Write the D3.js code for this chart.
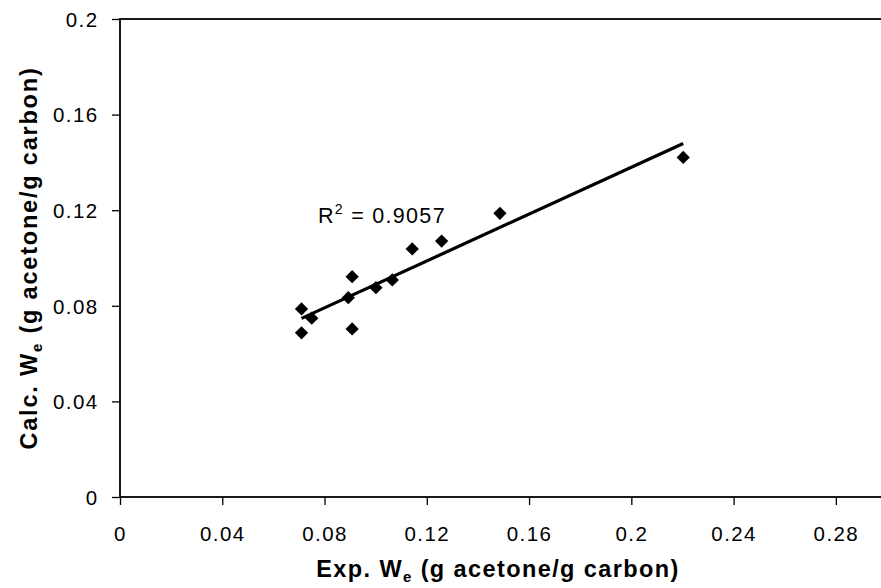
<!DOCTYPE html>
<html>
<head>
<meta charset="utf-8">
<script src="https://cdn.jsdelivr.net/npm/d3@7"></script>
<style>
  body { margin: 0; background: #fff; }
  svg { display: block; font-family: "Liberation Sans", Arial, sans-serif; }
</style>
</head>
<body>
<svg id="chart" width="881" height="588"></svg>
<script>
// experimental vs calculated equilibrium adsorption (g acetone / g carbon)
const expWe  = [0.0710, 0.0750, 0.0710, 0.0908, 0.0893, 0.0908, 0.1001, 0.1065, 0.1143, 0.1258, 0.1486, 0.2203];
const calcWe = [0.0787, 0.0748, 0.0687, 0.0922, 0.0834, 0.0703, 0.0876, 0.0908, 0.1038, 0.1071, 0.1187, 0.1421];

const xTicks = [0, 0.04, 0.08, 0.12, 0.16, 0.2, 0.24, 0.28];
const yTicks = [0, 0.04, 0.08, 0.12, 0.16, 0.2];
const r2Text = "0.9057";

const svg = d3.select("#chart");

const plotLeft = 120, plotRight = 887, plotTop = 19, plotBottom = 497;

const xScale = d3.scaleLinear().domain([0, 0.3]).range([plotLeft, plotRight]);
const yScale = d3.scaleLinear().domain([0, 0.2]).range([plotBottom, plotTop]);

const fmt = d => String(+d.toFixed(2));

/* plot frame */
svg.append("rect")
  .attr("x", plotLeft).attr("y", plotTop)
  .attr("width", plotRight - plotLeft).attr("height", plotBottom - plotTop)
  .attr("fill", "none").attr("stroke", "#000").attr("stroke-width", 1.8);

/* x axis */
const xAxis = svg.append("g")
  .attr("transform", `translate(0, ${plotBottom})`)
  .call(d3.axisBottom(xScale).tickValues(xTicks).tickFormat(fmt).tickSize(8).tickSizeOuter(0));
xAxis.select(".domain").remove();
xAxis.selectAll("line").attr("stroke", "#000").attr("stroke-width", 1.3);
xAxis.selectAll("text")
  .attr("y", 44).attr("dy", 0)
  .attr("fill", "#000")
  .style("font-size", "20.5px")
  .style("letter-spacing", "1.4px");
xAxis.attr("font-family", null).attr("font-size", null);

/* y axis */
const yAxis = svg.append("g")
  .attr("transform", `translate(${plotLeft}, 0)`)
  .call(d3.axisLeft(yScale).tickValues(yTicks).tickFormat(fmt).tickSize(8).tickSizeOuter(0));
yAxis.select(".domain").remove();
yAxis.selectAll("line").attr("stroke", "#000").attr("stroke-width", 1.3);
yAxis.selectAll("text")
  .attr("x", -21.5).attr("dy", "0.36em")
  .attr("fill", "#000")
  .style("font-size", "20.5px")
  .style("letter-spacing", "1.4px");
yAxis.attr("font-family", null).attr("font-size", null);

/* linear trend line */
const mx = d3.mean(expWe), my = d3.mean(calcWe);
let sxy = 0, sxx = 0;
for (let i = 0; i < expWe.length; i++) {
  sxy += (expWe[i] - mx) * (calcWe[i] - my);
  sxx += (expWe[i] - mx) * (expWe[i] - mx);
}
const slope = sxy / sxx;
const intercept = my - slope * mx;
const x0 = d3.min(expWe), x1 = d3.max(expWe);

svg.append("line")
  .attr("x1", xScale(x0)).attr("y1", yScale(intercept + slope * x0))
  .attr("x2", xScale(x1)).attr("y2", yScale(intercept + slope * x1))
  .attr("stroke", "#000").attr("stroke-width", 3.2);

/* points */
const diamond = d3.symbol().type(d3.symbolSquare).size(88);
svg.append("g").selectAll("path")
  .data(expWe.map((x, i) => ({ x: x, y: calcWe[i] })))
  .join("path")
  .attr("d", diamond)
  .attr("transform", d => `translate(${xScale(d.x)}, ${yScale(d.y)}) rotate(45)`)
  .attr("fill", "#000");

/* R squared label */
const r2 = svg.append("text")
  .attr("x", 318).attr("y", 223)
  .style("font-size", "21.5px")
  .style("letter-spacing", "1.3px");
r2.append("tspan").text("R");
r2.append("tspan").attr("dy", -9).style("font-size", "14px").text("2");
r2.append("tspan").attr("dy", 9).text(" = " + r2Text);

/* axis titles */
const xt = svg.append("text")
  .attr("x", 498).attr("y", 577)
  .attr("text-anchor", "middle")
  .style("font-size", "23.5px").style("font-weight", "bold")
  .style("letter-spacing", "1.4px");
xt.append("tspan").text("Exp. W");
xt.append("tspan").attr("dy", 5).style("font-size", "15px").text("e");
xt.append("tspan").attr("dy", -5).text(" (g acetone/g carbon)");

const yt = svg.append("text")
  .attr("transform", "translate(37, 258) rotate(-90)")
  .attr("text-anchor", "middle")
  .style("font-size", "23.5px").style("font-weight", "bold")
  .style("letter-spacing", "1.8px");
yt.append("tspan").text("Calc. W");
yt.append("tspan").attr("dy", 5).style("font-size", "15px").text("e");
yt.append("tspan").attr("dy", -5).text(" (g acetone/g carbon)");
</script>
</body>
</html>
